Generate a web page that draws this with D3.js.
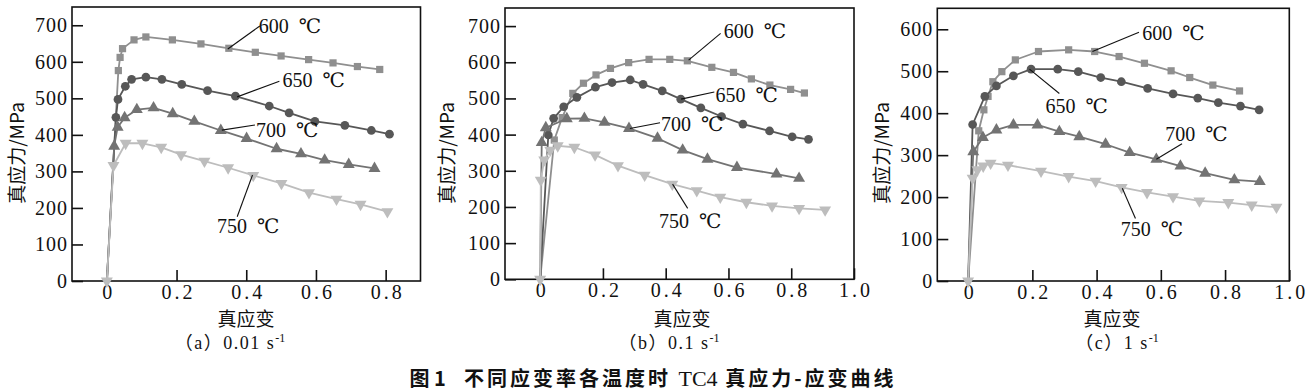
<!DOCTYPE html>
<html><head><meta charset="utf-8">
<script src="https://cdn.jsdelivr.net/npm/d3@7"></script>
<style>body{margin:0;background:#fff}svg{display:block}text{white-space:pre}</style>
</head><body><svg id="chart" width="1307" height="392"></svg>
<script>
// ---------- data ----------
const seriesNames = ["600", "650", "700", "750"];
const yTicks700 = [0, 100, 200, 300, 400, 500, 600, 700];
const yTicks600 = [0, 100, 200, 300, 400, 500, 600];
const xTicksA = [0, 0.2, 0.4, 0.6, 0.8];
const xTicksBC = [0, 0.2, 0.4, 0.6, 0.8, 1.0];
const xAxisTitle = "真应变";
const yAxisTitle = "真应力/MPa";
const captions = ["（a）0.01 s", "（b）0.1 s", "（c）1 s"];
const figTitleA = "图 1", figTitleB = "不同应变率各温度时 ", figTitleC = "TC4", figTitleD = " 真应力-应变曲线";

// panel (a) 0.01 s-1
const a600 = [[0,0],[0.033,576],[0.038,612],[0.045,636],[0.078,660],[0.112,668],[0.188,660],[0.27,649],[0.35,637],[0.426,626],[0.5,616],[0.579,606],[0.649,597],[0.719,587],[0.783,579]];
const a650 = [[0,0],[0.026,448],[0.032,497],[0.053,533],[0.071,552],[0.112,558],[0.158,552],[0.215,538],[0.289,521],[0.369,506],[0.466,479],[0.523,460],[0.597,437],[0.683,426],[0.759,412],[0.811,402]];
const a700 = [[0,0],[0.021,369],[0.031,421],[0.051,447],[0.086,469],[0.134,474],[0.189,458],[0.251,437],[0.327,412],[0.401,390],[0.487,362],[0.557,348],[0.625,331],[0.694,319],[0.768,308]];
const a750 = [[0,0],[0.019,316],[0.054,377],[0.102,377],[0.156,366],[0.213,346],[0.28,328],[0.348,310],[0.42,289],[0.501,267],[0.58,242],[0.659,224],[0.728,210],[0.805,190]];
// panel (b) 0.1 s-1
const b600 = [[0,0],[0.045,385],[0.07,447],[0.104,514],[0.138,542],[0.178,565],[0.224,583],[0.282,599],[0.347,608],[0.413,608],[0.469,604],[0.547,586],[0.616,572],[0.673,554],[0.732,537],[0.798,525],[0.842,515]];
const b650 = [[0,0],[0.026,399],[0.043,445],[0.075,477],[0.117,503],[0.176,531],[0.229,544],[0.287,551],[0.328,539],[0.389,521],[0.448,498],[0.512,474],[0.578,450],[0.646,429],[0.731,410],[0.803,394],[0.855,387]];
const b700 = [[0,0],[0.005,378],[0.018,419],[0.085,444],[0.141,445],[0.205,434],[0.283,417],[0.374,390],[0.454,357],[0.533,332],[0.627,309],[0.753,291],[0.825,279]];
const b750 = [[0,0],[0.002,274],[0.013,330],[0.032,357],[0.056,369],[0.109,365],[0.175,344],[0.248,314],[0.333,288],[0.421,263],[0.499,245],[0.574,227],[0.657,213],[0.739,203],[0.825,196],[0.908,192]];
// panel (c) 1 s-1
const c600 = [[0,0],[0.033,358],[0.049,408],[0.062,440],[0.077,475],[0.105,499],[0.147,527],[0.219,547],[0.313,551],[0.394,547],[0.47,535],[0.549,519],[0.632,501],[0.69,485],[0.762,467],[0.845,453]];
const c650 = [[0,0],[0.014,373],[0.052,440],[0.088,465],[0.141,489],[0.196,505],[0.279,505],[0.343,499],[0.413,485],[0.477,475],[0.559,459],[0.638,446],[0.715,436],[0.779,425],[0.848,417],[0.906,408]];
const c700 = [[0,0],[0.016,308],[0.046,342],[0.088,360],[0.141,372],[0.216,372],[0.284,356],[0.346,344],[0.428,326],[0.503,306],[0.586,290],[0.661,274],[0.738,257],[0.829,241],[0.908,237]];
const c750 = [[0,0],[0.014,245],[0.029,265],[0.047,274],[0.07,281],[0.124,276],[0.227,262],[0.313,249],[0.397,238],[0.478,223],[0.557,211],[0.638,201],[0.72,191],[0.81,187],[0.883,181],[0.96,176]];

// annotations: [label, leaderFrom(x,y), leaderTo(x,y), text(x,y)] in data units
const annA = [["600  ℃",0.347,635,0.439,698,0.436,679],["650  ℃",0.374,504,0.495,547,0.504,531],["700  ℃",0.33,413,0.425,427,0.428,394],["750  ℃",0.418,290,0.374,176,0.316,131]];
const annB = [["600  ℃",0.473,606,0.575,680,0.585,667],["650  ℃",0.449,498,0.555,518,0.559,491],["700  ℃",0.286,417,0.382,433,0.385,411],["750  ℃",0.422,263,0.47,196,0.379,143]];
const annC = [["600  ℃",0.387,547,0.532,593,0.542,574],["650  ℃",0.191,505,0.284,447,0.241,400],["700  ℃",0.586,290,0.666,327,0.614,334],["750  ℃",0.48,221,0.521,149,0.475,108]];

// ---------- style ----------
const colors = {"600":"#8f8f8f","650":"#575757","700":"#737373","750":"#bdbdbd"};
const shapes = {"600":d3.symbolSquare,"650":d3.symbolCircle,"700":d3.symbolTriangle,"750":d3.symbolTriangle};
const sizes = {"600":52,"650":60,"700":62,"750":62};
const serif = "'Liberation Serif','DejaVu Serif','Noto Sans CJK SC',serif";
const cjk = "'Noto Sans CJK SC',sans-serif";

const panels = [
  {box:[72,7,420.5,281], xd:[-0.1,0.9], yd:[0,750], xt:xTicksA, yt:yTicks700, data:[a600,a650,a700,a750], ann:annA, cap:captions[0], capX:230, yTitleX:17, xTitleX:246},
  {box:[505,8,854,279.3], xd:[-0.112,1.0], yd:[0,750], xt:xTicksBC, yt:yTicks700, data:[b600,b650,b700,b750], ann:annB, cap:captions[1], capX:669, yTitleX:447, xTitleX:682},
  {box:[937.3,8.3,1289.3,281], xd:[-0.096,1.0], yd:[0,650], xt:xTicksBC, yt:yTicks600, data:[c600,c650,c700,c750], ann:annC, cap:captions[2], capX:1117, yTitleX:882, xTitleX:1112}
];

const svg = d3.select("#chart");
svg.append("rect").attr("width",1307).attr("height",392).attr("fill","#fff");

panels.forEach(p => {
  const [L,T,R,B] = p.box;
  const x = d3.scaleLinear().domain(p.xd).range([L,R]);
  const y = d3.scaleLinear().domain(p.yd).range([B,T]);
  const g = svg.append("g");

  // axes (ticks inward)
  const xa = g.append("g").attr("transform",`translate(0,${B})`)
    .call(d3.axisTop(x).tickValues(p.xt).tickSize(11).tickFormat(d => d===0 ? "0" : d3.format(".1f")(d)));
  xa.selectAll("text").attr("y",4).attr("dy","0.71em").attr("dx","1.5px");
  const ya = g.append("g").attr("transform",`translate(${L},0)`)
    .call(d3.axisRight(y).tickValues(p.yt).tickSize(11).tickFormat(d3.format("d")));
  ya.selectAll("text").attr("x",-4).attr("text-anchor","end");
  [xa,ya].forEach(a => {
    a.select(".domain").remove();
    a.selectAll("line").attr("stroke","#111").attr("stroke-width",1.6);
    a.selectAll("text").attr("font-family",serif).attr("font-size",20).attr("fill","#111");
  });
  xa.selectAll("text").attr("letter-spacing","3px");
  ya.selectAll("text").attr("letter-spacing","1px");

  g.append("rect").attr("x",L).attr("y",T).attr("width",R-L).attr("height",B-T)
    .attr("fill","none").attr("stroke","#111").attr("stroke-width",1.6);

  // series
  const line = d3.line().x(d => x(d[0])).y(d => y(d[1]));
  p.data.forEach((ser,i) => {
    const key = seriesNames[i];
    g.append("path").datum(ser).attr("d",line).attr("fill","none")
      .attr("stroke",colors[key]).attr("stroke-width",1.8).attr("stroke-linejoin","round");
    const sym = d3.symbol().type(shapes[key]).size(sizes[key]);
    g.selectAll(null).data(ser.filter(d => d[1] > 0 || key === "750")).join("path")
      .attr("d",sym)
      .attr("transform",d => `translate(${x(d[0])},${y(d[1])})` + (key==="750" ? " rotate(180)" : ""))
      .attr("fill",colors[key]);
  });

  // annotations
  p.ann.forEach(a => {
    g.append("line").attr("x1",x(a[1])).attr("y1",y(a[2])).attr("x2",x(a[3])).attr("y2",y(a[4]))
      .attr("stroke","#111").attr("stroke-width",1.1);
    g.append("text").attr("x",x(a[5])).attr("y",y(a[6])).text(a[0])
      .attr("font-family",serif).attr("font-size",20).attr("fill","#111");
  });

  // axis titles
  g.append("text").attr("x",p.xTitleX).attr("y",326).attr("text-anchor","middle")
    .attr("font-family",cjk).attr("font-size",19).attr("fill","#111").text(xAxisTitle);
  g.append("text").attr("transform",`translate(${p.yTitleX+7},153) rotate(-90)`).attr("text-anchor","middle")
    .attr("font-family",cjk).attr("font-size",19).attr("fill","#111").text(yAxisTitle);

  // caption
  const cap = g.append("text").attr("x",p.capX).attr("y",349).attr("text-anchor","middle")
    .attr("font-family",serif).attr("font-size",18).attr("letter-spacing","1.5px").attr("fill","#111");
  cap.append("tspan").text(p.cap);
  cap.append("tspan").attr("dy",-7).attr("font-size",12).attr("letter-spacing","0px").text("-1");
});

// figure title
const t = svg.append("text").attr("x",653).attr("y",386).attr("text-anchor","middle")
  .attr("font-size",20).attr("fill","#111");
t.append("tspan").attr("font-family",cjk).attr("font-weight","bold").text(figTitleA + "    ");
t.append("tspan").attr("font-family",cjk).attr("font-weight","bold").attr("letter-spacing","3px").text(figTitleB);
t.append("tspan").attr("font-family",serif).attr("font-size",22).text(figTitleC);
t.append("tspan").attr("font-family",cjk).attr("font-weight","bold").attr("letter-spacing","3px").text(figTitleD);
</script></body></html>
